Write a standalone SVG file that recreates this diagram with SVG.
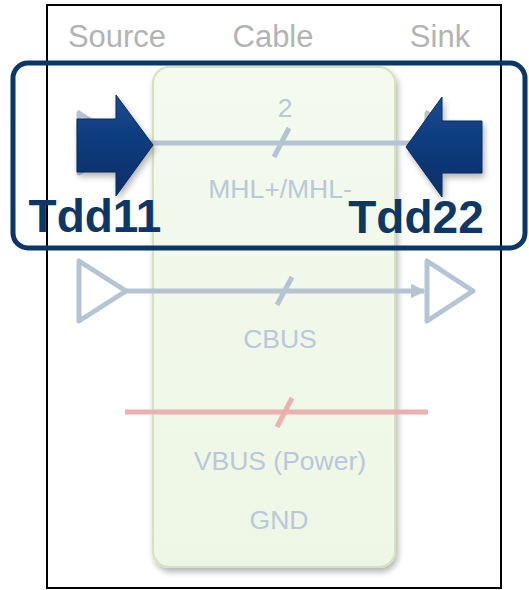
<svg xmlns="http://www.w3.org/2000/svg" width="529" height="590" viewBox="0 0 529 590">
<defs>
<style>
.hdr{font-family:"Liberation Sans",Arial,sans-serif;font-size:31px;fill:#b3b3b3;text-anchor:middle}
.lbl{font-family:"Liberation Sans",Arial,sans-serif;font-size:26.5px;fill:#b9c8da;text-anchor:middle}
.tdd{font-family:"Liberation Sans",Arial,sans-serif;font-size:46px;font-weight:bold;fill:#0c3767;text-anchor:middle}
.sig{stroke:#b4c4d5;stroke-width:5;fill:none}
.pwr{stroke:#ebb0b0;stroke-width:5;fill:none}
.buf{stroke:#b4c4d5;stroke-width:5;fill:#fff;stroke-linejoin:round}
.big{fill:url(#navy);stroke:#082a5a;stroke-width:1}
</style>
<linearGradient id="green" x1="0" y1="0" x2="0" y2="1">
<stop offset="0" stop-color="#f4faee"/>
<stop offset="1" stop-color="#eef6e5"/>
</linearGradient>
<linearGradient id="navy" x1="0" y1="0" x2="0" y2="1">
<stop offset="0" stop-color="#1a4b90"/>
<stop offset="0.5" stop-color="#0d3a7c"/>
<stop offset="1" stop-color="#0a2f66"/>
</linearGradient>
<filter id="sh" x="-10%" y="-10%" width="130%" height="130%">
<feGaussianBlur in="SourceAlpha" stdDeviation="3"/>
<feOffset dx="2" dy="4"/>
<feComponentTransfer><feFuncA type="linear" slope="0.3"/></feComponentTransfer>
<feMerge><feMergeNode/><feMergeNode in="SourceGraphic"/></feMerge>
</filter>
<marker id="ah" viewBox="0 0 10 10" refX="9" refY="5" markerWidth="3" markerHeight="3" orient="auto" markerUnits="strokeWidth">
<path d="M0,0 L10,5 L0,10 z" fill="#b4c4d5"/>
</marker>
</defs>
<rect width="529" height="590" fill="#fff"/>
<g id="frame">
<rect x="47" y="5" width="454" height="583" fill="none" stroke="#000" stroke-width="2"/>
</g>
<g id="headers">
<text class="hdr" x="117" y="47">Source</text>
<text class="hdr" x="273" y="47">Cable</text>
<text class="hdr" x="440" y="47">Sink</text>
</g>
<g id="cable">
<rect x="153" y="67" width="242" height="500" rx="16" fill="url(#green)" stroke="#d2e3bd" stroke-width="2" filter="url(#sh)"/>
</g>
<g id="connectors">
<polygon class="buf" points="79,113 79,173 126,143"/>
<polygon class="buf" points="427,113 427,173 473,143"/>
<line class="sig" x1="126" y1="143" x2="427" y2="143"/>
<line class="sig" x1="274" y1="157" x2="289" y2="128"/>
<polygon class="buf" points="79,261 79,321 126,291"/>
<polygon class="buf" points="427,261 427,321 473,291"/>
<line class="sig" x1="126" y1="291" x2="424" y2="291" marker-end="url(#ah)"/>
<line class="sig" x1="277" y1="305" x2="292" y2="277"/>
<line class="pwr" x1="125" y1="412" x2="428" y2="412"/>
<line class="pwr" x1="277" y1="427" x2="292" y2="398"/>
</g>
<g id="labels">
<text class="lbl" x="285" y="117">2</text>
<text class="lbl" x="280" y="198">MHL+/MHL-</text>
<text class="lbl" x="280" y="348">CBUS</text>
<text class="lbl" x="280" y="470">VBUS (Power)</text>
<text class="lbl" x="279" y="529">GND</text>
</g>
<g id="tdd-box">
<rect x="13" y="63" width="512" height="185" rx="15" fill="none" stroke="#0b3768" stroke-width="5"/>
</g>
<g id="tdd11">
<polygon class="big" points="77,119 116,119 116,95 153,145 116,196 116,172 77,172" filter="url(#sh)"/>
<text class="tdd" x="95" y="232">Tdd11</text>
</g>
<g id="tdd22">
<polygon class="big" points="482,121 442,121 442,97 406,147 442,197 442,173 482,173" filter="url(#sh)"/>
<text class="tdd" x="416" y="233">Tdd22</text>
</g>
</svg>
